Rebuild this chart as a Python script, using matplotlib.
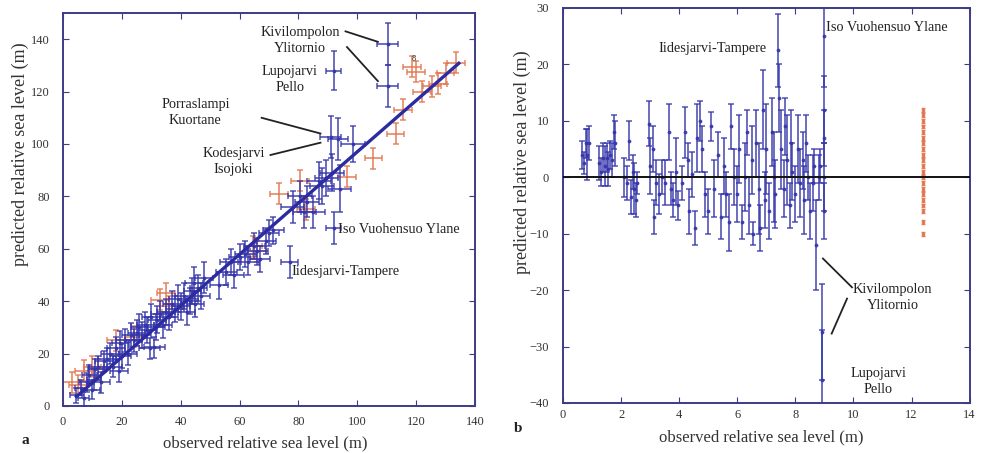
#!/usr/bin/env python3
"""
Observed vs predicted relative sea level (a) and residuals (b)
"""

import matplotlib
matplotlib.use('Agg')
import matplotlib.pyplot as plt
from matplotlib.ticker import MultipleLocator

plt.rcParams['font.family'] = ['Liberation Serif', 'DejaVu Serif']

# ---- panel a: blue sites (observed, predicted, errors) ----
obs_blue = [4.5, 6, 7, 8, 9, 10, 10.5, 11, 12, 13, 14, 15, 16, 17, 18, 19, 19.5, 20,
            21, 22, 23, 24, 25, 26, 27, 28, 28.5, 29.5, 30, 31, 31.5, 32, 33, 34, 35,
            36, 37, 38, 39, 40, 41, 42, 43, 44, 44.5, 45, 46, 47, 48, 53, 55.5, 57, 58,
            60, 62, 63, 65, 66, 67, 69, 70, 71.5, 78, 80.5, 82, 83, 85, 87, 88, 89.5,
            91.5, 91, 93.5, 94, 98.5, 92, 77, 92, 110.3, 110.3]
pred_blue = [4, 7, 3, 9, 12, 6, 10, 14, 15, 9, 17, 18, 20, 15, 22, 13.5, 24, 19,
             25, 20, 27, 25, 28, 30, 27, 31, 29, 22, 34, 22.5, 30, 33, 35, 31, 36,
             34, 39, 37, 41, 38, 42, 36, 40, 44, 47, 39, 45, 42, 49, 46, 51, 55, 50,
             57, 58, 55, 61, 59, 56, 63, 66, 67, 76, 80, 74, 78, 74, 86, 84, 87,
             89, 102.5, 102, 83, 100, 68, 55, 128, 138, 122]
xerr_blue = [2, 2, 2, 2.5, 2.5, 2.5, 2.5, 2.5, 3, 3, 3, 3, 3, 3, 3, 3, 3, 3,
             3, 3, 3, 3, 3, 3, 3, 3, 3, 3.5, 3, 3.5, 3, 3, 3, 3, 3,
             3, 3, 3, 3, 3, 3, 3, 3, 3, 3, 3, 3, 3, 3, 3, 3.5, 3.5, 3.5,
             3.5, 3.5, 3.5, 3.5, 3.5, 3.5, 3.5, 3.5, 3.5, 4, 4, 4, 4, 4, 4, 4, 4,
             4, 3.5, 3.5, 4, 4, 2.5, 3, 2.5, 3.5, 3.5]
yerr_blue = [3, 3, 3, 3.5, 3.5, 3.5, 4, 4, 4, 4, 4, 4, 4, 4, 4.5, 4.5, 4.5, 4.5,
             4.5, 4.5, 4.5, 4.5, 5, 5, 5, 5, 5, 4, 5, 4, 5, 5, 5, 5, 5,
             5, 5, 5, 5, 5, 5, 5, 5, 5, 6, 5, 5, 5, 6, 5, 5, 5, 5,
             5, 5, 5, 5, 5, 5, 5, 5, 5, 6, 6, 6, 6, 6, 7, 7, 7,
             7, 8, 8, 9, 7, 6, 6, 7.5, 8, 8]

# ---- panel a: orange sites ----
obs_orange = [3, 5, 7, 10, 12, 18, 24, 33, 35, 36, 64.5, 66, 73.5, 80.5, 82.5,
              96.5, 105.5, 113, 115.5, 118.5, 120, 122, 125.5, 127.5, 130, 133.5]
pred_orange = [9, 8, 13.5, 15, 14, 25, 26.5, 40.5, 43, 38, 61, 59, 81, 86, 75,
               87.5, 94.5, 104, 113, 129.5, 127.5, 120, 122, 123, 127, 131]

# regression line end points
fit_x = [4.6, 134.5]
fit_y = [3.6, 130.8]

# ---- panel b: residuals ----
res_x = [0.65, 0.72, 0.78, 0.82, 0.88,
         1.25, 1.3, 1.38, 1.45, 1.5, 1.55, 1.62, 1.7, 1.75, 1.8,
         2.1, 2.2, 2.28, 2.35, 2.4, 2.45, 2.5, 2.55,
         2.95, 3.0, 3.1, 3.15, 3.2, 3.3, 3.4, 3.5,
         3.65, 3.72, 3.8, 3.9, 3.95,
         4.1, 4.2, 4.3, 4.35, 4.45, 4.55, 4.6,
         4.7, 4.8, 4.9, 5.0, 5.1, 5.2,
         5.35, 5.45, 5.55, 5.62, 5.7, 5.78,
         5.9, 6.0, 6.05, 6.15, 6.25, 6.35, 6.4,
         6.5, 6.55, 6.65, 6.75, 6.8, 6.9, 6.95, 7.0,
         7.1, 7.2, 7.25, 7.3, 7.4, 7.45, 7.5,
         7.6, 7.65, 7.7, 7.8, 7.85, 7.9, 8.0,
         8.1, 8.15, 8.25, 8.3, 8.35, 8.45, 8.5,
         8.6, 8.65, 8.72, 8.8, 8.85, 8.92, 8.92, 8.97, 8.97, 8.97, 8.97, 8.97]
res_y = [4, 2.5, 6, 4, 6,
         2.5, 1, 3.5, 2, 3.5, 1.5, 4, 3, 8, 6,
         0, -1, 6.5, -3.5, 1, -2, -4, -1,
         9.5, 2, 5, -7, -1, -3, 0, -1,
         8, -2, -4, 1, -5,
         -1, 8, 3, -6, 0.5, -9, 7,
         10, 5, -3, -6, 9, -2,
         4, -7, 2, -3, -8, 9,
         0, -3, 5, -8, 0, 8, -5,
         3, -10, 6, -2, -9, 12, -4, 5,
         -6, 8, 0, -3, 22.5, 14, 5,
         -2, 9, 3, -5, 6, 1, -3,
         5, -1, 3, -4, 6, 0, -6,
         -1, 2, -12, 0, 2, -27.5, -36, 25, 12, 7, 0, -6]
res_err = [2.5, 2, 2.5, 4.5, 3,
           3, 2.5, 2.5, 3.5, 2.5, 3, 2.5, 3, 3, 4,
           3.5, 3, 3.5, 3, 3, 4.5, 3, 2,
           4, 5, 4, 3, 4, 3.5, 3, 4,
           5, 3, 3, 6, 2.5,
           3, 4.5, 3, 4, 4, 3, 6,
           3.5, 4, 4, 4, 2.5, 5,
           4, 4, 5, 4, 5, 4,
           5, 5, 6, 3, 6, 4, 5,
           6, 2, 6, 8, 4, 7, 5, 8,
           5, 6, 8, 6, 6.5, 6, 7,
           5, 5, 8, 4, 6, 5, 5,
           6, 6, 5, 6, 5, 4, 5,
           5, 3, 8, 4, 3, 8.5, 9, 9, 6, 5, 6, 5]

res_orange_x = [12.4] * 21
res_orange_y = [12, 11, 10, 9, 8, 7, 6, 5, 4, 3, 2, 1, 0, -1, -2, -3, -4, -5, -6, -8, -10]

BLUE = '#3535aa'
ORANGE = '#e2744c'
FRAME = '#3c3c86'
INK = '#222222'


def style_axes(ax, xpad, ypad):
    for s in ax.spines.values():
        s.set_color(FRAME)
        s.set_linewidth(1.4)
    ax.tick_params(direction='in', top=True, right=True, length=4,
                   color=FRAME, labelsize=9, labelcolor='#333333')
    ax.tick_params(axis='x', pad=xpad)
    ax.tick_params(axis='y', pad=ypad)
    ax.set_xlabel('observed relative sea level (m)', fontsize=12, color='#333333')
    ax.set_ylabel('predicted relative sea level (m)', fontsize=13, color='#333333')
    ax.xaxis.label.set_va('center')
    ax.yaxis.label.set_va('center')


fig = plt.figure(figsize=(9.81, 4.53), dpi=100)

# ---------------- panel a ----------------
ax1 = fig.add_axes([0.0642, 0.1038, 0.42, 0.8675])
ax1.errorbar(obs_orange, pred_orange, xerr=3, yerr=4, fmt='none', ecolor=ORANGE,
             elinewidth=1.2, capsize=2.5, capthick=1.1, alpha=0.85, zorder=2)
ax1.errorbar(obs_blue, pred_blue, xerr=xerr_blue, yerr=yerr_blue, fmt='.', ms=3.5,
             color=BLUE, ecolor=BLUE, elinewidth=1.2, capsize=2.5, capthick=1.1,
             alpha=0.85, zorder=3)
ax1.plot(fit_x, fit_y, color='#2c2ca0', lw=2.4, zorder=4)

ax1.set_xlim(0, 140)
ax1.set_ylim(0, 150)
ax1.xaxis.set_major_locator(MultipleLocator(20))
ax1.set_yticks([0, 20, 40, 60, 80, 100, 120, 140])
style_axes(ax1, 7, 9.5)
ax1.xaxis.set_label_coords(0.49, -0.094)
ax1.yaxis.set_label_coords(-0.104, 0.64)

# site labels and leader lines
txt = dict(fontsize=10.3, color=INK, ha='center', va='center', linespacing=1.3)
ax1.text(80.5, 139.5, 'Kivilompolon\nYlitornio', **txt)
ax1.text(77, 124.5, 'Lupojarvi\nPello', **txt)
ax1.text(45, 112, 'Porraslampi\nKuortane', **txt)
ax1.text(58, 93.3, 'Kodesjarvi\nIsojoki', **txt)
ax1.text(93.5, 67.5, 'Iso Vuohensuo Ylane', fontsize=10.3, color=INK, ha='left', va='center')
ax1.text(77.5, 51.5, 'Iidesjarvi-Tampere', fontsize=10.3, color=INK, ha='left', va='center')
ax1.text(118.5, 132.5, '8', fontsize=6, color='#333333', ha='left', va='center')

lk = dict(color=INK, lw=1.3, zorder=5)
ax1.plot([96, 107], [143, 139], **lk)
ax1.plot([96.5, 107], [137, 124], **lk)
ax1.plot([67.5, 87.5], [110, 104], **lk)
ax1.plot([70.5, 87.5], [95.8, 100.5], **lk)

# ---------------- panel b ----------------
ax2 = fig.add_axes([0.5739, 0.1104, 0.4145, 0.872])
ax2.axhline(0, color='#111111', lw=1.4, zorder=4)
ax2.errorbar(res_x, res_y, yerr=res_err, fmt='.', ms=3.5, color=BLUE, ecolor=BLUE,
             elinewidth=1.2, capsize=2.5, capthick=1.1, alpha=0.85, zorder=3)
ax2.errorbar(res_orange_x, res_orange_y, yerr=0.35, fmt='s', ms=1.8, color=ORANGE,
             ecolor=ORANGE, elinewidth=0.8, capsize=1.5, alpha=0.9, zorder=3)

ax2.set_xlim(0, 14)
ax2.set_ylim(-40, 30)
ax2.xaxis.set_major_locator(MultipleLocator(2))
ax2.yaxis.set_major_locator(MultipleLocator(10))
style_axes(ax2, 4, 10)
ax2.xaxis.set_label_coords(0.488, -0.086)
ax2.yaxis.set_label_coords(-0.099, 0.61)

ax2.text(5.15, 22.8, 'Iidesjarvi-Tampere', fontsize=10.3, color=INK, ha='center', va='center')
ax2.text(9.05, 26.6, 'Iso Vuohensuo Ylane', fontsize=10.3, color=INK, ha='left', va='center')
ax2.text(11.35, -21.3, 'Kivilompolon\nYlitornio', **txt)
ax2.text(10.85, -36.2, 'Lupojarvi\nPello', **txt)
ax2.plot([9.95, 8.95], [-19.5, -14.4], **lk)
ax2.plot([9.78, 9.25], [-21.5, -27.7], **lk)

# panel letters
fig.text(25 / 981, 1 - 440 / 453, 'a', fontsize=11, fontweight='bold', color=INK,
         ha='center', va='center')
fig.text(518 / 981, 1 - 428 / 453, 'b', fontsize=11, fontweight='bold', color=INK,
         ha='center', va='center')

plt.savefig('out.png', dpi=100)
plt.close()
